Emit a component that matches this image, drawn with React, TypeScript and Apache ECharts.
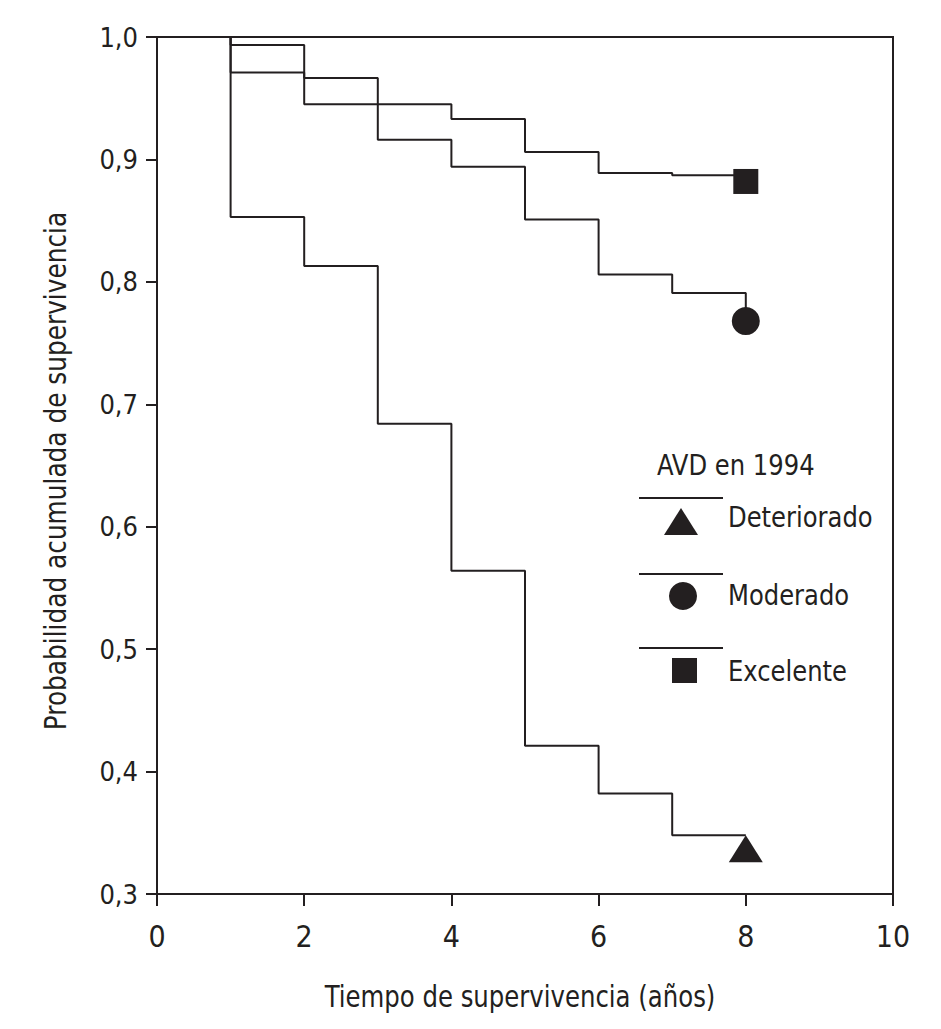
import React, { useEffect, useRef } from "react";
import * as echarts from "echarts";

// Kaplan-Meier steps: [year, survival after the drop]
const deteriorado: [number, number][] = [
  [0, 1.0], [1, 0.853], [2, 0.813], [3, 0.684], [4, 0.564],
  [5, 0.421], [6, 0.382], [7, 0.348], [8, 0.348],
];
const moderado: [number, number][] = [
  [0, 1.0], [1, 0.971], [2, 0.9665], [3, 0.916], [4, 0.894],
  [5, 0.851], [6, 0.806], [7, 0.791], [8, 0.768],
];
const excelente: [number, number][] = [
  [0, 1.0], [1, 0.9935], [2, 0.945], [4, 0.933], [5, 0.906],
  [6, 0.889], [7, 0.887], [8, 0.887],
];

// censoring markers at the end of follow-up
const endYear = 8;
const endDeteriorado = 0.337;
const endModerado = 0.768;
const endExcelente = 0.882;

const xTitle = "Tiempo de supervivencia (años)";
const yTitle = "Probabilidad acumulada de supervivencia";
const legendTitle = "AVD en 1994";
const groupNames = ["Deteriorado", "Moderado", "Excelente"];

const ink = "#231f20";
const font = "'DejaVu Sans Condensed', 'Liberation Sans Narrow', sans-serif";

const App: React.FC = () => {
  const chartRef = useRef<HTMLDivElement>(null);

  useEffect(() => {
    document.body.style.margin = "0";
    if (!chartRef.current) return;
    const chart = echarts.init(chartRef.current, undefined, { renderer: "svg" });

    const stepLine = (name: string, data: [number, number][]) => ({
      name,
      type: "line",
      step: "end",
      data,
      symbol: "none",
      lineStyle: { color: ink, width: 2 },
      z: 3,
    });

    const marker = (symbol: string, size: number | number[], value: number) => ({
      type: "scatter",
      symbol,
      symbolSize: size,
      data: [[endYear, value]],
      itemStyle: { color: ink, opacity: 1 },
      z: 4,
    });

    const legendX = 639;
    const legendRows = [
      { lineY: 498, textY: 517, shape: { type: "polygon", shape: { points: [[681, 508], [698, 535], [664, 535]] } } },
      { lineY: 574, textY: 595, shape: { type: "circle", shape: { cx: 683, cy: 596, r: 14 } } },
      { lineY: 648, textY: 671, shape: { type: "rect", shape: { x: 672, y: 658, width: 25, height: 25 } } },
    ];

    const graphic: any[] = [
      {
        type: "text",
        x: 520,
        y: 996,
        scaleX: 0.875,
        style: { text: xTitle, font: `31px ${font}`, fill: ink, align: "center", verticalAlign: "middle" },
      },
      {
        type: "text",
        x: 55,
        y: 471,
        rotation: Math.PI / 2,
        scaleX: 0.89,
        style: { text: yTitle, font: `31px ${font}`, fill: ink, align: "center", verticalAlign: "middle" },
      },
      {
        type: "text",
        x: 657,
        y: 465,
        scaleX: 0.93,
        style: { text: legendTitle, font: `29px ${font}`, fill: ink, verticalAlign: "middle" },
      },
    ];
    legendRows.forEach((row, i) => {
      graphic.push({
        type: "line",
        shape: { x1: legendX, y1: row.lineY, x2: legendX + 84, y2: row.lineY },
        style: { stroke: ink, lineWidth: 1.8 },
      });
      graphic.push({ ...row.shape, style: { fill: ink } });
      graphic.push({
        type: "text",
        x: 728,
        y: row.textY,
        scaleX: 0.93,
        style: { text: groupNames[i], font: `29px ${font}`, fill: ink, verticalAlign: "middle" },
      });
    });

    const option: any = {
      animation: false,
      backgroundColor: "#fff",
      grid: {
        left: 157,
        right: 48,
        top: 37,
        bottom: 135,
        show: true,
        borderColor: ink,
        borderWidth: 2,
        containLabel: false,
      },
      xAxis: {
        type: "value",
        min: 0,
        max: 10,
        interval: 2,
        axisLine: { lineStyle: { color: ink, width: 2 } },
        axisTick: { show: true, length: 12, lineStyle: { color: ink, width: 2 } },
        axisLabel: { fontFamily: font, fontSize: 30, color: ink, margin: 27 },
        splitLine: { show: false },
      },
      yAxis: {
        type: "value",
        min: 0.3,
        max: 1.0,
        interval: 0.1,
        axisLine: { lineStyle: { color: ink, width: 2 } },
        axisTick: { show: true, length: 11, lineStyle: { color: ink, width: 2 } },
        axisLabel: {
          fontFamily: font,
          fontSize: 27,
          color: ink,
          margin: 19,
          formatter: (v: number) => v.toFixed(1).replace(".", ","),
        },
        splitLine: { show: false },
      },
      series: [
        stepLine("Deteriorado", deteriorado),
        stepLine("Moderado", moderado),
        stepLine("Excelente", excelente),
        marker("triangle", [34, 27], endDeteriorado),
        marker("circle", 28, endModerado),
        marker("rect", 25, endExcelente),
      ],
      graphic,
    };

    chart.setOption(option);
    return () => chart.dispose();
  }, []);

  return <div ref={chartRef} style={{ width: 941, height: 1029 }} />;
};

export default App;
